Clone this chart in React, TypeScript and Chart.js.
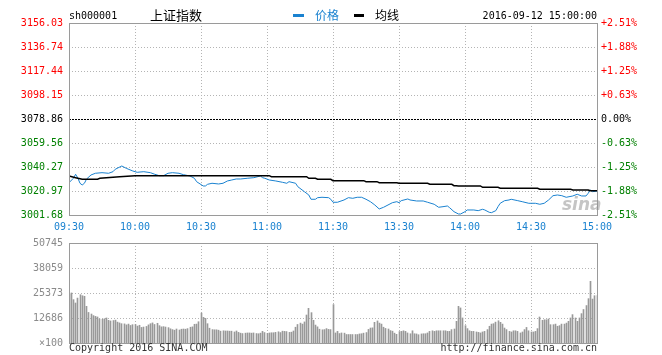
import React, { useEffect, useRef } from 'react';
import { Chart, registerables } from 'chart.js';

Chart.register(...registerables);

const PREV_CLOSE = 3078.86;
const PRICE_TICKS = [3001.68, 3020.97, 3040.27, 3059.56, 3078.86, 3098.15, 3117.44, 3136.74, 3156.03];
const PCT_LABELS = ['-2.51%', '-1.88%', '-1.25%', '-0.63%', '0.00%', '+0.63%', '+1.25%', '+1.88%', '+2.51%'];
const TIME_TICKS = [0, 30, 60, 90, 120, 150, 180, 210, 240];
const TIME_LABELS = ['09:30', '10:00', '10:30', '11:00', '11:30', '13:30', '14:00', '14:30', '15:00'];
const VOL_TICKS = [0, 12686, 25373, 38059, 50745];
const VOL_LABELS = ['×100', '12686', '25373', '38059', '50745'];

// minute index (0 = 09:30, 120 = 11:30/13:00, 240 = 15:00)
const PRICE_MINUTES = [
  0, 2, 3, 4, 5, 6, 7, 8, 10, 12, 15, 18, 20, 21, 24, 26, 29, 31, 34, 37, 39, 41, 43, 45, 47, 50, 52, 55, 57, 58,
  61, 62, 63, 65, 68, 70, 72, 74, 76, 78, 81, 84, 87, 88, 89, 91, 94, 97, 99, 100, 103, 104, 107, 109, 110, 112,
  113, 115, 118, 119, 120, 122, 125, 127, 129, 131, 133, 135, 137, 139, 141, 143, 145, 147, 149, 150, 151, 154,
  155, 158, 161, 163, 166, 168, 170, 172, 173, 175, 177, 178, 180, 181, 184, 186, 188, 189, 191, 192, 194, 195,
  196, 198, 200, 201, 204, 206, 209, 212, 214, 216, 218, 220, 222, 224, 226, 229, 231, 233, 235, 236, 237, 238, 240,
];
const PRICE_VALUES = [
  3027.66, 3031.2, 3034.41, 3031.44, 3027.18, 3025.81, 3027.18, 3030.63, 3033.85, 3035.22, 3035.7, 3035.22, 3036.5,
  3038.43, 3041.08, 3039.24, 3037.06, 3036.02, 3036.5, 3035.7, 3034.41, 3033.29, 3033.29, 3035.22, 3035.7, 3035.22,
  3034.09, 3033.05, 3031.2, 3028.47,
  3025.01, 3025.01, 3026.37, 3027.18, 3026.62, 3027.18, 3029.03, 3029.83, 3030.63, 3030.63, 3031.2, 3031.68, 3033.05,
  3031.68, 3031.2, 3029.83, 3029.03, 3027.98, 3027.18, 3028.47, 3027.18, 3024.45, 3020.43, 3017.77, 3014.32, 3014.32,
  3015.61, 3015.93, 3015.61, 3014.32, 3011.91, 3011.91, 3013.76, 3015.61, 3015.12, 3015.93, 3015.93, 3014.32, 3012.39,
  3009.74, 3006.52, 3007.89, 3009.74, 3011.59, 3012.39, 3011.59, 3013.19, 3014.56,
  3013.76, 3012.95, 3012.95, 3011.91, 3010.3, 3007.89, 3008.37, 3008.93, 3007.57, 3004.35, 3002.5, 3002.5, 3004.35,
  3005.72, 3005.72, 3005.16, 3006.28, 3005.72, 3003.87, 3003.55, 3005.16, 3008.37,
  3011.1, 3013.19, 3013.76, 3014.32, 3013.19, 3012.39, 3011.1, 3011.1, 3010.3, 3011.1, 3013.76, 3017.21, 3017.77,
  3017.21, 3015.93, 3016.97, 3018.34, 3016.97, 3016.97, 3019.14, 3021.79, 3020.43, 3020.99,
];

const AVG_MINUTES = [
  0, 3, 6, 13, 14, 23, 30, 91, 92, 108, 109, 112, 113, 119, 120, 134, 135, 140, 141, 149, 150, 163, 164, 174, 175,
  176, 177, 187, 188, 195, 196, 213, 214, 228, 229, 236, 237, 240,
];
const AVG_VALUES = [
  3033.05, 3031.68, 3030.39, 3030.39, 3031.2, 3032.48, 3033.29, 3033.29, 3032.48, 3032.48, 3031.2, 3031.2, 3030.39,
  3030.39, 3029.27, 3029.27, 3028.47, 3028.47, 3027.66, 3027.66, 3027.18, 3027.18, 3026.37, 3026.37, 3025.25,
  3025.25, 3025.01, 3025.01, 3023.96, 3023.96, 3023.16, 3023.16, 3022.36, 3022.36, 3021.79, 3021.79, 3021.23, 3021.23,
];

// volume (x100 shares), one bar per minute 0..240
const VOLUMES = [
  25000,
  25400, 22000, 20300, 22800, 24500, 24000, 23700, 18600, 15500, 14700, 13900, 13500, 13200, 12200, 12000,
  12300, 12700, 11500, 11200, 11400, 11600, 10600, 10200, 9800, 9700, 9200, 9600, 8900, 9300, 9400,
  8600, 9000, 7900, 8100, 8400, 9200, 9800, 10200, 9400, 10000, 8800, 8200, 8300, 8100, 7800,
  7200, 6800, 6500, 7100, 6600, 7000, 7100, 7000, 7300, 8000, 8200, 9500, 9600, 10800, 15200,
  13000, 12500, 9800, 7500, 6800, 6700, 6700, 6500, 6000, 6200, 6100, 6100, 6000, 6000, 5600,
  6100, 5400, 5000, 4800, 5000, 5100, 5100, 5000, 5100, 4800, 4700, 5000, 5900, 5300, 4900,
  5100, 5200, 5200, 5400, 5700, 5300, 6000, 5900, 5800, 5400, 5500, 6100, 8000, 9400, 10100,
  9600, 10700, 14200, 17600, 15400, 11500, 9100, 8200, 7000, 6700, 6800, 7300, 6900, 6800, 19500,
  5100, 5900, 4800, 5100, 5000, 4300, 4300, 4300, 4300, 4300, 4300, 4600, 4700, 5000, 5300,
  6900, 7600, 7700, 10500, 11200, 10100, 9600, 8000, 7400, 7100, 6300, 6000, 5000, 4400, 5800,
  5900, 6200, 5900, 5100, 4700, 6200, 4700, 4600, 4200, 4600, 4700, 4700, 5100, 5900, 6200,
  5900, 6200, 6200, 6200, 6200, 6200, 5900, 5900, 6800, 7100, 11000, 18600, 17800, 12700, 8800,
  7300, 6200, 5900, 5900, 5600, 5400, 5100, 5600, 5900, 6800, 8500, 9600, 9800, 10600, 11300,
  10500, 9600, 7600, 6800, 5900, 5600, 6200, 6200, 5900, 5100, 5600, 6800, 7900, 6200, 5600,
  5600, 5900, 7300, 13200, 11500, 11800, 11800, 12200, 9300, 9300, 9600, 8500, 8800, 9600, 9600,
  10100, 11000, 12700, 14400, 12700, 11000, 12700, 14900, 17000, 19000, 22500, 31300, 22300, 24000, 24000,
];

const BLUE = '#1a82d0';
const RED = '#ff0000';
const GREEN = '#008000';
const MONO = { family: 'DejaVu Sans Mono', size: 10 };
const PLOT_LEFT = 69;
const PLOT_RIGHT_GAP = 65;

const gridPlugin = {
  id: 'sinaGrid',
  beforeDatasetsDraw(chart: any, _args: any, opts: any) {
    const { ctx, chartArea: a } = chart;
    const xs = chart.scales.x;
    const ys = chart.scales.y;
    const L = Math.round(a.left), R = Math.round(a.right), T = Math.round(a.top), B = Math.round(a.bottom);
    ctx.save();
    ctx.lineWidth = 1;
    ctx.strokeStyle = '#b4b4b4';
    ctx.setLineDash([1, 2]);
    for (const t of TIME_TICKS) {
      if (t === 0 || t === 240) continue;
      const x = Math.round(xs.getPixelForValue(t)) + 0.5;
      ctx.beginPath();
      ctx.moveTo(x, T);
      ctx.lineTo(x, B);
      ctx.stroke();
    }
    const yt: number[] = opts.yTicks;
    for (let i = 1; i < yt.length - 1; i++) {
      if (opts.dashed != null && Math.abs(yt[i] - opts.dashed) < 0.001) continue;
      const y = Math.round(ys.getPixelForValue(yt[i])) + 0.5;
      ctx.beginPath();
      ctx.moveTo(L, y);
      ctx.lineTo(R, y);
      ctx.stroke();
    }
    if (opts.dashed != null) {
      ctx.strokeStyle = '#000';
      ctx.setLineDash([2, 1]);
      const y = Math.round(ys.getPixelForValue(opts.dashed)) + 0.5;
      ctx.beginPath();
      ctx.moveTo(L, y);
      ctx.lineTo(R, y);
      ctx.stroke();
    }
    ctx.restore();
    // snap 1px volume bars to whole pixels for crisp rendering
    if (opts.snapBars) {
      chart.data.datasets.forEach((_d: any, di: number) => {
        const meta = chart.getDatasetMeta(di);
        meta.data.forEach((el: any) => {
          el.x = Math.floor(el.x) + 0.5;
        });
      });
    }
  },
  afterDatasetsDraw(chart: any) {
    const { ctx, chartArea: a } = chart;
    const L = Math.round(a.left), R = Math.round(a.right), T = Math.round(a.top), B = Math.round(a.bottom);
    ctx.save();
    ctx.strokeStyle = '#9a9a9a';
    ctx.lineWidth = 1;
    ctx.setLineDash([]);
    ctx.strokeRect(L + 0.5, T + 0.5, R - L, B - T);
    ctx.restore();
  },
};

function priceColor(v: number) {
  if (Math.abs(v - PREV_CLOSE) < 0.001) return '#000';
  return v > PREV_CLOSE ? RED : GREEN;
}

function PriceChart() {
  const ref = useRef<HTMLCanvasElement>(null);
  useEffect(() => {
    const chart = new Chart(ref.current as HTMLCanvasElement, {
      type: 'line',
      data: {
        datasets: [
          {
            data: AVG_MINUTES.map((m, i) => ({ x: m, y: AVG_VALUES[i] })),
            borderColor: '#000',
            borderWidth: 1.5,
            pointRadius: 0,
            tension: 0,
          },
          {
            data: PRICE_MINUTES.map((m, i) => ({ x: m, y: PRICE_VALUES[i] })),
            borderColor: BLUE,
            borderWidth: 1,
            pointRadius: 0,
            tension: 0,
          },
        ],
      },
      options: {
        responsive: false,
        animation: false,
        devicePixelRatio: 1,
        layout: { padding: { top: 23, left: 0, right: 0, bottom: 0 } },
        plugins: {
          legend: { display: false },
          tooltip: { enabled: false },
          sinaGrid: { yTicks: PRICE_TICKS, dashed: PREV_CLOSE },
        } as any,
        scales: {
          x: {
            type: 'linear',
            min: 0,
            max: 240,
            grid: { display: false, drawTicks: false },
            border: { display: false },
            afterBuildTicks: (s: any) => {
              s.ticks = TIME_TICKS.map((v) => ({ value: v }));
            },
            afterFit: (s: any) => {
              s.height = 25;
            },
            ticks: {
              autoSkip: false,
              maxRotation: 0,
              padding: 6,
              color: BLUE,
              font: MONO,
              callback: (v: any) => TIME_LABELS[TIME_TICKS.indexOf(Number(v))] ?? '',
            },
          },
          y: {
            type: 'linear',
            position: 'left',
            min: PRICE_TICKS[0],
            max: PRICE_TICKS[PRICE_TICKS.length - 1],
            grid: { display: false, drawTicks: false },
            border: { display: false },
            afterBuildTicks: (s: any) => {
              s.ticks = PRICE_TICKS.map((v) => ({ value: v }));
            },
            afterFit: (s: any) => {
              s.width = PLOT_LEFT;
            },
            ticks: {
              autoSkip: false,
              padding: 6,
              font: MONO,
              color: (c: any) => priceColor(c.tick.value),
              callback: (v: any) => Number(v).toFixed(2),
            },
          },
          yr: {
            type: 'linear',
            position: 'right',
            min: PRICE_TICKS[0],
            max: PRICE_TICKS[PRICE_TICKS.length - 1],
            grid: { display: false, drawTicks: false },
            border: { display: false },
            afterBuildTicks: (s: any) => {
              s.ticks = PRICE_TICKS.map((v) => ({ value: v }));
            },
            afterFit: (s: any) => {
              s.width = PLOT_RIGHT_GAP;
            },
            ticks: {
              autoSkip: false,
              padding: 4,
              font: MONO,
              color: (c: any) => priceColor(c.tick.value),
              callback: (_v: any, i: number) => PCT_LABELS[i],
            },
          },
        },
      } as any,
      plugins: [gridPlugin as any],
    });
    return () => chart.destroy();
  }, []);
  return <canvas ref={ref} width={662} height={240} style={{ display: 'block', position: 'absolute', left: 0, top: 0 }} />;
}

function VolumeChart() {
  const ref = useRef<HTMLCanvasElement>(null);
  useEffect(() => {
    const chart = new Chart(ref.current as HTMLCanvasElement, {
      type: 'bar',
      data: {
        datasets: [
          {
            data: VOLUMES.map((v, i) => ({ x: i, y: v })),
            backgroundColor: '#999999',
            borderWidth: 0,
            barThickness: 1,
            grouped: false,
          } as any,
        ],
      },
      options: {
        responsive: false,
        animation: false,
        devicePixelRatio: 1,
        layout: { padding: { top: 13, left: 0, right: PLOT_RIGHT_GAP, bottom: 12 } },
        plugins: {
          legend: { display: false },
          tooltip: { enabled: false },
          sinaGrid: { yTicks: VOL_TICKS, dashed: null, snapBars: true },
        } as any,
        scales: {
          x: {
            type: 'linear',
            min: 0,
            max: 240,
            offset: false,
            display: false,
            grid: { display: false, offset: false },
          },
          y: {
            type: 'linear',
            position: 'left',
            min: 0,
            max: VOL_TICKS[VOL_TICKS.length - 1],
            grid: { display: false, drawTicks: false },
            border: { display: false },
            afterBuildTicks: (s: any) => {
              s.ticks = VOL_TICKS.map((v) => ({ value: v }));
            },
            afterFit: (s: any) => {
              s.width = PLOT_LEFT;
            },
            ticks: {
              autoSkip: false,
              padding: 6,
              font: MONO,
              color: '#8a8a8a',
              callback: (_v: any, i: number) => VOL_LABELS[i],
            },
          },
        },
      } as any,
      plugins: [gridPlugin as any],
    });
    return () => chart.destroy();
  }, []);
  return <canvas ref={ref} width={662} height={125} style={{ display: 'block', position: 'absolute', left: 0, top: 230 }} />;
}

const monoText: React.CSSProperties = {
  position: 'absolute',
  fontFamily: 'DejaVu Sans Mono, monospace',
  fontSize: 10,
  lineHeight: '12px',
  whiteSpace: 'nowrap',
};
const cjkText: React.CSSProperties = {
  position: 'absolute',
  fontFamily: '"Noto Sans CJK SC", sans-serif',
  whiteSpace: 'nowrap',
};

export default function App() {
  return (
    <div style={{ position: 'absolute', left: 0, top: 0, width: 662, height: 355, background: '#fff', overflow: 'hidden' }}>
      <PriceChart />
      <VolumeChart />
      <div style={{ ...monoText, left: 69, top: 10, color: '#000' }}>sh000001</div>
      <div style={{ ...cjkText, left: 150, top: 7, fontSize: 13, lineHeight: '16px', color: '#000' }}>上证指数</div>
      <div style={{ position: 'absolute', left: 293, top: 14, width: 11, height: 3, background: BLUE }} />
      <div style={{ ...cjkText, left: 315, top: 8, fontSize: 12, lineHeight: '14px', color: BLUE }}>价格</div>
      <div style={{ position: 'absolute', left: 354, top: 14, width: 10, height: 3, background: '#000' }} />
      <div style={{ ...cjkText, left: 375, top: 8, fontSize: 12, lineHeight: '14px', color: '#000' }}>均线</div>
      <div style={{ ...monoText, right: 65, top: 10, color: '#000' }}>2016-09-12 15:00:00</div>
      <div
        style={{
          position: 'absolute',
          left: 562,
          top: 194,
          fontFamily: 'DejaVu Sans, sans-serif',
          fontStyle: 'italic',
          fontWeight: 'bold',
          fontSize: 17,
          lineHeight: '20px',
          color: 'rgba(150,150,150,0.55)',
        }}
      >
        sina
      </div>
      <div style={{ ...monoText, left: 69, top: 342, color: '#333' }}>Copyright 2016 SINA.COM</div>
      <div style={{ ...monoText, right: 65, top: 342, color: '#333' }}>http://finance.sina.com.cn</div>
    </div>
  );
}
